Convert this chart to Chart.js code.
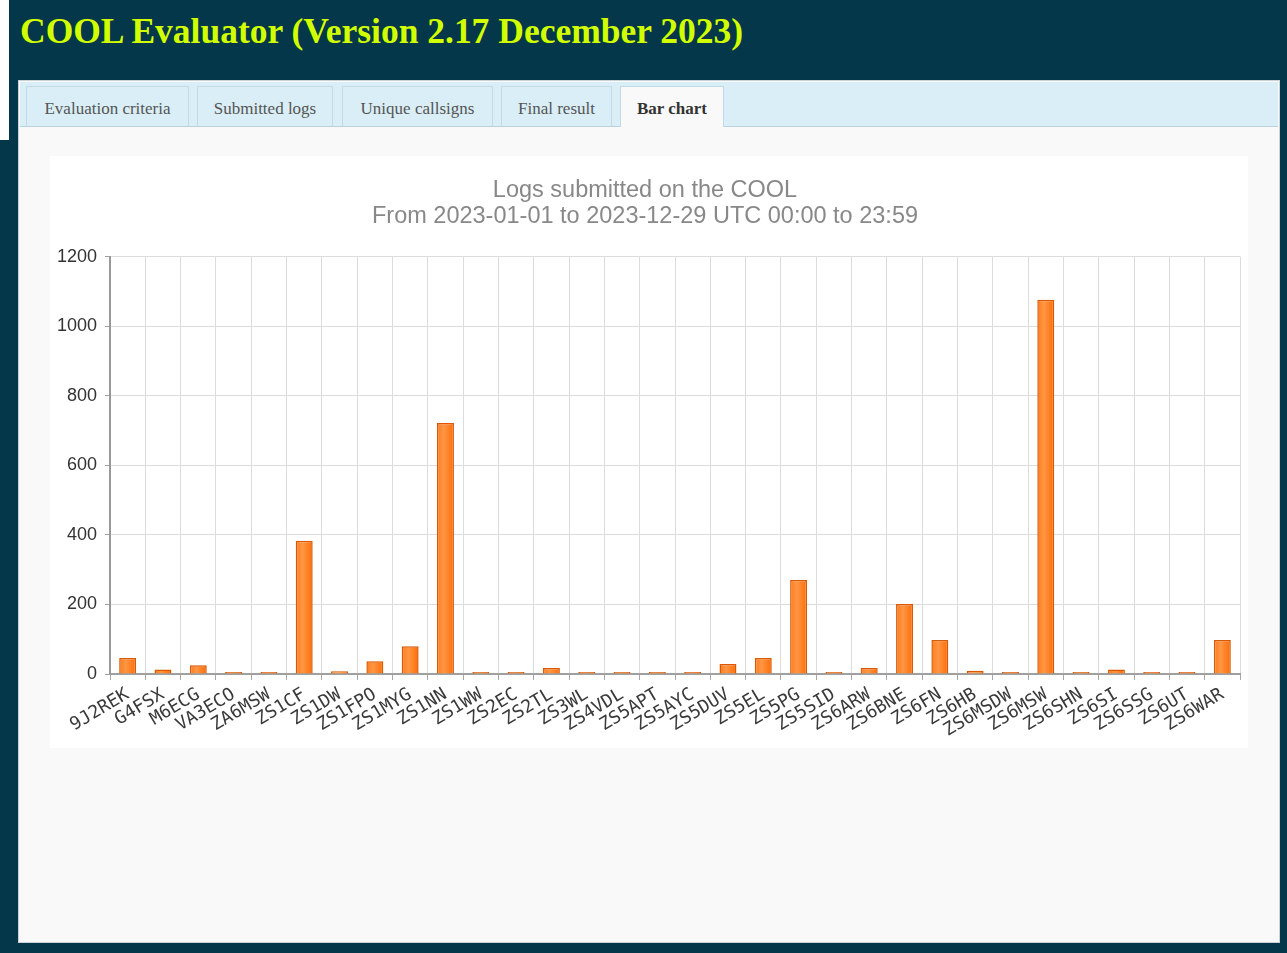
<!DOCTYPE html>
<html><head><meta charset="utf-8">
<script src="https://cdn.jsdelivr.net/npm/chart.js@4.4.0/dist/chart.umd.min.js"></script>
<style>
html,body{margin:0;padding:0;width:1287px;height:953px;overflow:hidden;background:#04374a;}
#strip{position:absolute;left:0;top:0;width:9px;height:140px;background:#fff}
#title{position:absolute;left:20px;top:10px;font-family:"Liberation Serif",serif;font-weight:bold;font-size:35px;line-height:44px;color:#d2ff00;white-space:nowrap;transform-origin:0 0;}
#panel{position:absolute;left:18px;top:80px;width:1260px;height:861px;background:#f9f9f9;border:1px solid #c9d3d7;}
#tabbar{position:absolute;left:1px;top:1px;width:1258px;height:44px;background:#d9eef6;border-bottom:1px solid #b9d3dd;}
.tab{position:absolute;top:4px;height:40px;background:#d9eef6;border:1px solid #c3dbe4;border-bottom:none;font-family:"Liberation Serif",serif;font-size:17px;color:#555;line-height:43px;text-align:center;box-sizing:border-box;white-space:nowrap}
.tab.active{background:#f9f9f9;font-weight:bold;color:#333;height:41px}
#box{position:absolute;left:50px;top:156px;width:1198px;height:592px;background:#fff}
canvas{display:block}
</style></head>
<body>
<div id="strip"></div>
<div id="title">COOL Evaluator (Version 2.17 December 2023)</div>
<div id="panel">
  <div id="tabbar">
    <div class="tab" style="left:6px;width:163px">Evaluation criteria</div>
    <div class="tab" style="left:177px;width:136px">Submitted logs</div>
    <div class="tab" style="left:322px;width:151px">Unique callsigns</div>
    <div class="tab" style="left:481px;width:111px">Final result</div>
    <div class="tab active" style="left:600px;width:104px">Bar chart</div>
  </div>
</div>
<div id="box"><canvas id="c" width="1198" height="592"></canvas></div>
<script>
const titleLines = ["Logs submitted on the COOL", "From 2023-01-01 to 2023-12-29 UTC 00:00 to 23:59"];
const callsigns = ["9J2REK","G4FSX","M6ECG","VA3ECO","ZA6MSW","ZS1CF","ZS1DW","ZS1FPO","ZS1MYG","ZS1NN","ZS1WW","ZS2EC","ZS2TL","ZS3WL","ZS4VDL","ZS5APT","ZS5AYC","ZS5DUV","ZS5EL","ZS5PG","ZS5SID","ZS6ARW","ZS6BNE","ZS6FN","ZS6HB","ZS6MSDW","ZS6MSW","ZS6SHN","ZS6SI","ZS6SSG","ZS6UT","ZS6WAR"];
const logCounts = [46,13,25,1,1,383,8,37,80,722,5,1,17,5,5,1,5,29,46,270,5,17,201,98,9,1,1076,1,13,5,5,98];
const yTicks = [0,200,400,600,800,1000,1200];

// fit header title width
(function(){
  const t = document.getElementById('title');
  const w = t.getBoundingClientRect().width;
  t.style.transform = 'scaleX(' + (723 / w) + ')';
})();

const BAR_PCT = 0.48;
function barFill(ctx){
  const chart = ctx.chart;
  const xs = chart.scales && chart.scales.x;
  if (!xs || !chart.chartArea || ctx.dataIndex == null) return '#ff7f22';
  const cx = xs.getPixelForValue(ctx.dataIndex);
  const w = (xs.width / callsigns.length) * BAR_PCT;
  const g = chart.ctx.createLinearGradient(cx - w/2, 0, cx + w/2, 0);
  g.addColorStop(0, '#ff7a1c');
  g.addColorStop(0.4, '#ff9644');
  g.addColorStop(1, '#ff6c05');
  return g;
}

new Chart(document.getElementById('c'), {
  type: 'bar',
  data: {
    labels: callsigns,
    datasets: [{
      data: logCounts,
      backgroundColor: barFill,
      borderColor: '#d95800',
      borderWidth: 1.5,
      minBarLength: 2,
      barPercentage: BAR_PCT,
      categoryPercentage: 1
    }]
  },
  options: {
    responsive: false,
    animation: false,
    layout: { padding: { left: 0, right: 8, top: 0, bottom: 0 } },
    plugins: {
      legend: { display: false },
      tooltip: { enabled: false },
      title: {
        display: true,
        text: titleLines,
        color: '#888',
        font: { family: '"Liberation Sans", Arial, sans-serif', size: 23.5, weight: 'normal', lineHeight: 1.12 },
        padding: { top: 21, bottom: 27 }
      }
    },
    scales: {
      x: {
        ticks: {
          autoSkip: false,
          maxRotation: 31,
          minRotation: 31,
          color: '#3a3a3a',
          padding: 4,
          font: { family: '"DejaVu Sans Mono", monospace', size: 18, weight: 'normal' }
        },
        grid: { color: '#dcdcdc', lineWidth: 1, tickLength: 6, tickColor: '#a8a8a8', offset: true },
        border: { color: '#a0a0a0', width: 2 },
        afterFit(s){ s.height = 74; }
      },
      y: {
        min: 0, max: 1200,
        afterBuildTicks(s){ s.ticks = yTicks.map(v => ({ value: v })); },
        ticks: {
          color: '#333',
          padding: 8,
          callback: (v) => String(v),
          font: { family: '"Liberation Sans", Arial, sans-serif', size: 18 }
        },
        grid: { color: '#dcdcdc', lineWidth: 1, tickLength: 5, tickColor: '#a0a0a0' },
        border: { color: '#999', width: 2 },
        afterFit(s){ s.width = 60; }
      }
    }
  }
});
</script>
</body></html>
